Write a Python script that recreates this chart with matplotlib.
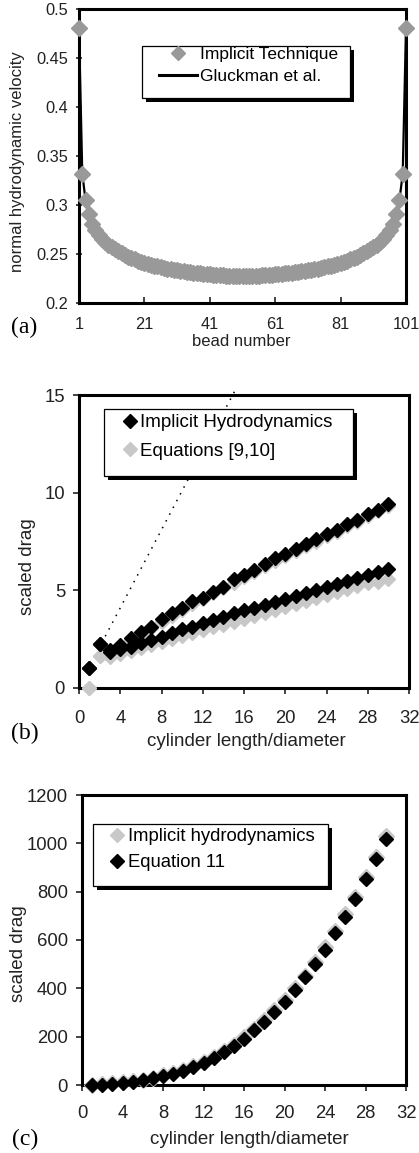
import matplotlib
matplotlib.use('Agg')
import matplotlib.pyplot as plt
from matplotlib.patches import Rectangle
from matplotlib.lines import Line2D

plt.rcParams['font.family'] = ['Liberation Sans', 'DejaVu Sans']

W, H = 419, 1153

# (a) normal hydrodynamic velocity along a 101-bead chain
beads = list(range(1, 102))
vel_implicit = [
    0.481, 0.332, 0.305, 0.291, 0.281, 0.274, 0.269, 0.265, 0.262, 0.259,
    0.257, 0.255, 0.253, 0.251, 0.249, 0.247, 0.246, 0.245, 0.243, 0.242,
    0.241, 0.240, 0.239, 0.238, 0.238, 0.237, 0.236, 0.235, 0.235, 0.234,
    0.234, 0.233, 0.233, 0.232, 0.232, 0.231, 0.231, 0.231, 0.230, 0.230,
    0.230, 0.229, 0.229, 0.229, 0.229, 0.228, 0.228, 0.228, 0.228, 0.228,
    0.228,
    0.228, 0.228, 0.228, 0.228, 0.228, 0.229, 0.229, 0.229, 0.229, 0.230,
    0.230, 0.230, 0.231, 0.231, 0.231, 0.232, 0.232, 0.233, 0.233, 0.234,
    0.234, 0.235, 0.235, 0.236, 0.237, 0.238, 0.238, 0.239, 0.240, 0.241,
    0.242, 0.243, 0.245, 0.246, 0.247, 0.249, 0.251, 0.253, 0.255, 0.257,
    0.259, 0.262, 0.265, 0.269, 0.274, 0.281, 0.291, 0.305, 0.332, 0.481,
]
vel_gluckman = list(vel_implicit)
a_xticks = [1, 21, 41, 61, 81, 101]
a_yticks = [0.2, 0.25, 0.3, 0.35, 0.4, 0.45, 0.5]
a_ylabels = ['0.2', '0.25', '0.3', '0.35', '0.4', '0.45', '0.5']

# (b) translational drag of cylinders, two orientations
ratio = list(range(1, 31))
perp_implicit = [1.0, 2.25, 1.95, 2.2, 2.54, 2.88, 3.14, 3.55, 3.82, 4.11,
                 4.47, 4.62, 4.93, 5.19, 5.56, 5.79, 6.05, 6.33, 6.64, 6.84,
                 7.1, 7.36, 7.63, 7.88, 8.09, 8.38, 8.6, 8.9, 9.11, 9.4]
par_implicit = [1.0, 2.25, 1.85, 1.98, 2.12, 2.29, 2.46, 2.63, 2.83, 3.02,
                3.14, 3.31, 3.48, 3.65, 3.82, 3.97, 4.12, 4.27, 4.42, 4.57,
                4.72, 4.87, 5.02, 5.17, 5.32, 5.47, 5.62, 5.77, 5.92, 6.08]
perp_eq = [0.0, 1.64, 1.85, 2.15, 2.45, 2.78, 3.08, 3.4, 3.7, 4.0,
           4.3, 4.55, 4.85, 5.1, 5.4, 5.7, 5.95, 6.25, 6.5, 6.75,
           7.0, 7.25, 7.5, 7.78, 8.0, 8.27, 8.52, 8.8, 9.05, 9.3]
par_eq = [0.0, 1.64, 1.6, 1.75, 1.9, 2.05, 2.2, 2.35, 2.5, 2.65,
          2.8, 2.95, 3.1, 3.25, 3.4, 3.55, 3.7, 3.85, 4.0, 4.15,
          4.3, 4.45, 4.6, 4.75, 4.9, 5.05, 5.2, 5.35, 5.45, 5.6]
guide_x = [2.2, 15.3]
guide_y = [2.3, 15.4]
b_yticks = [0, 5, 10, 15]

# (c) rotational drag
rot_implicit = [2, 4, 7, 11, 16, 22, 30, 40, 50, 63,
                78, 96, 117, 141, 167, 197, 231, 268, 309, 353,
                401, 453, 509, 569, 636, 706, 780, 862, 945, 1032]
rot_eq11 = [1, 2, 5, 8, 13, 19, 27, 36, 46, 58,
            74, 91, 113, 136, 160, 192, 226, 262, 303, 345,
            393, 446, 500, 560, 628, 697, 770, 852, 935, 1020]
cd_xticks = [0, 4, 8, 12, 16, 20, 24, 28, 32]
c_yticks = [0, 200, 400, 600, 800, 1000, 1200]

GRAY_A = '#999999'
GRAY_B = '#c8c8c8'
MS_A = 8.5
MS_B = 7.5


def pos(left, top, right, bottom):
    return [left / W, 1 - bottom / H, (right - left) / W, (bottom - top) / H]


def fpt(x, y):
    return x / W, 1 - y / H


def style_axes(ax, direction, fs, xpad, ypad):
    for s in ax.spines.values():
        s.set_linewidth(2.2)
        s.set_color('black')
    ax.tick_params(direction=direction, length=4, width=1.2, labelsize=fs,
                   colors='#222222')
    ax.tick_params(axis='x', pad=xpad)
    ax.tick_params(axis='y', pad=ypad)


def legend_box(ax, x0, y0, x1, y1):
    dx = 4 / (ax.bbox.width)
    dy = 4 / (ax.bbox.height)
    ax.add_patch(Rectangle((x0 + dx, y0 - dy), x1 - x0, y1 - y0,
                           transform=ax.transAxes, facecolor='black',
                           edgecolor='none', clip_on=False, zorder=6))
    ax.add_patch(Rectangle((x0, y0), x1 - x0, y1 - y0,
                           transform=ax.transAxes, facecolor='white',
                           edgecolor='black', lw=0.9, clip_on=False, zorder=6.1))


fig = plt.figure(figsize=(W / 100, H / 100), dpi=100)

# ---- (a)
ax1 = fig.add_axes(pos(79, 9, 406, 303))
ax1.plot(beads, vel_gluckman, color='black', lw=1.6, zorder=3, clip_on=False)
ax1.plot(beads, vel_implicit, ls='none', marker='D', ms=MS_A, color=GRAY_A,
         mec=GRAY_A, zorder=4, clip_on=False)
ax1.set_xlim(1, 101)
ax1.set_ylim(0.2, 0.5)
ax1.set_xticks(a_xticks)
ax1.set_yticks(a_yticks)
ax1.set_yticklabels(a_ylabels)
style_axes(ax1, 'in', 11.8, 10, 6)
ax1.tick_params(axis='y', direction='inout')
legend_box(ax1, (142 - 79) / 327, (303 - 98) / 294, (350 - 79) / 327, (303 - 46) / 294)
h1 = [Line2D([], [], ls='none', marker='D', ms=MS_A - 1, color=GRAY_A),
      Line2D([], [], color='black', lw=2.2)]
leg = ax1.legend(h1, ['Implicit Technique', 'Gluckman et al.'], frameon=False,
                 loc='upper left', bbox_to_anchor=((159 - 79) / 327, (303 - 47) / 294),
                 borderpad=0, borderaxespad=0, handlelength=2.2, handletextpad=0.15,
                 labelspacing=0.4, fontsize=12.5)
leg.set_zorder(7)

fig.text(*fpt(18, 162), 'normal hydrodynamic velocity', rotation=90,
         ha='center', va='center', fontsize=12, color='#222222')
fig.text(*fpt(241, 342), 'bead number', ha='center', va='center',
         fontsize=12, color='#222222')
fig.text(*fpt(24, 327), '(a)', ha='center', va='center', fontsize=17,
         family='Liberation Serif')

# ---- (b)
ax2 = fig.add_axes(pos(79, 395, 409, 688))
ax2.plot(guide_x, guide_y, color='black', lw=1.1, ls=(0, (1, 4)),
         clip_on=False, zorder=2)
for ys in (perp_eq, par_eq):
    ax2.plot(ratio, ys, ls='none', marker='D', ms=MS_B, color=GRAY_B,
             mec=GRAY_B, zorder=3, clip_on=False)
for ys in (perp_implicit, par_implicit):
    ax2.plot(ratio, ys, ls='none', marker='D', ms=MS_B, color='black',
             zorder=4, clip_on=False)
ax2.set_xlim(0, 32)
ax2.set_ylim(0, 15)
ax2.set_xticks(cd_xticks)
ax2.set_yticks(b_yticks)
style_axes(ax2, 'out', 13.3, 11.5, 6)
legend_box(ax2, (104 - 79) / 330, (688 - 476) / 293, (353 - 79) / 330, (688 - 409) / 293)
h2 = [Line2D([], [], ls='none', marker='D', ms=MS_B, color='black'),
      Line2D([], [], ls='none', marker='D', ms=MS_B, color=GRAY_B)]
leg = ax2.legend(h2, ['Implicit Hydrodynamics', 'Equations [9,10]'], frameon=False,
                 loc='upper left', bbox_to_anchor=((122 - 79) / 330, (688 - 414) / 293),
                 borderpad=0, borderaxespad=0, handlelength=0.8, handletextpad=0.15,
                 labelspacing=0.6, fontsize=13.5)
leg.set_zorder(7)

fig.text(*fpt(28, 567), 'scaled drag', rotation=90, ha='center', va='center',
         fontsize=13.5, color='#222222')
fig.text(*fpt(246, 741), 'cylinder length/diameter', ha='center', va='center',
         fontsize=13.5, color='#222222')
fig.text(*fpt(25, 733), '(b)', ha='center', va='center', fontsize=17,
         family='Liberation Serif')

# ---- (c)
ax3 = fig.add_axes(pos(82, 795, 406, 1085))
ax3.plot(ratio, rot_implicit, ls='none', marker='D', ms=MS_B + 0.5, color=GRAY_B,
         mec=GRAY_B, zorder=3, clip_on=False)
ax3.plot(ratio, rot_eq11, ls='none', marker='D', ms=MS_B, color='black',
         zorder=4, clip_on=False)
ax3.set_xlim(0, 32)
ax3.set_ylim(0, 1200)
ax3.set_xticks(cd_xticks)
ax3.set_yticks(c_yticks)
style_axes(ax3, 'out', 13.3, 10.5, 6)
legend_box(ax3, (93 - 82) / 324, (1085 - 886) / 290, (328 - 82) / 324, (1085 - 824) / 290)
h3 = [Line2D([], [], ls='none', marker='D', ms=MS_B, color=GRAY_B),
      Line2D([], [], ls='none', marker='D', ms=MS_B, color='black')]
leg = ax3.legend(h3, ['Implicit hydrodynamics', 'Equation 11'], frameon=False,
                 loc='upper left', bbox_to_anchor=((110 - 82) / 324, (1085 - 828) / 290),
                 borderpad=0, borderaxespad=0, handlelength=0.8, handletextpad=0.2,
                 labelspacing=0.5, fontsize=13.3)
leg.set_zorder(7)

fig.text(*fpt(19, 954), 'scaled drag', rotation=90, ha='center', va='center',
         fontsize=13.5, color='#222222')
fig.text(*fpt(249, 1139), 'cylinder length/diameter', ha='center', va='center',
         fontsize=13.5, color='#222222')
fig.text(*fpt(25, 1139), '(c)', ha='center', va='center', fontsize=17,
         family='Liberation Serif')

fig.savefig('out.png', dpi=100)
